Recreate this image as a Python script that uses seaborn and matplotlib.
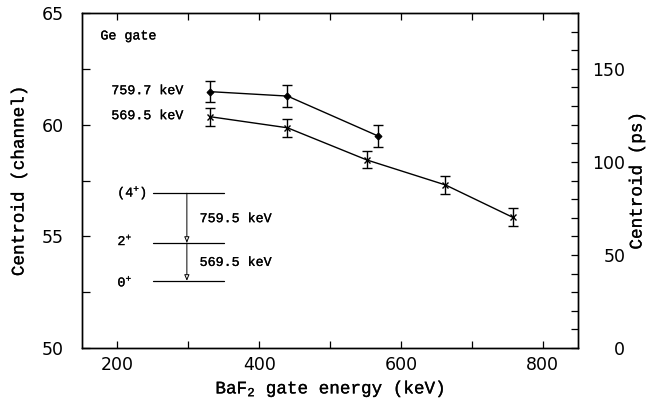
import matplotlib
matplotlib.use("Agg")
import matplotlib.pyplot as plt
import matplotlib.patheffects as pe
import seaborn as sns
import pandas as pd
from matplotlib.ticker import MultipleLocator, FixedLocator

# ---- data ----
gate_759 = [330, 440, 568]
cent_759 = [61.48, 61.28, 59.49]
err_759 = [0.48, 0.49, 0.49]

gate_569 = [330, 440, 552, 663, 758]
cent_569 = [60.36, 59.86, 58.42, 57.30, 55.85]
err_569 = [0.40, 0.40, 0.38, 0.39, 0.40]

series_labels = ["759.7 keV", "569.5 keV"]
x_ticks = [200, 300, 400, 500, 600, 700, 800]
x_ticklabels = ["200", "", "400", "", "600", "", "800"]
y_ticks = [50, 55, 60, 65]
ps_ticklabels = [0, 50, 100, 150]
ps_per_channel = 12.0  # 180 ps across 15 channels

levels_y = [56.93, 54.71, 53.01]
level_names = ["(4$^{+}$)", "2$^{+}$", "0$^{+}$"]
transitions = ["759.5 keV", "569.5 keV"]

df759 = pd.DataFrame({"gate": gate_759, "centroid": cent_759, "err": err_759})
df569 = pd.DataFrame({"gate": gate_569, "centroid": cent_569, "err": err_569})

sns.set_style("ticks")
plt.rcParams["font.family"] = ["Liberation Mono", "DejaVu Sans"]
for k in ["text.color", "axes.labelcolor", "xtick.color", "ytick.color", "axes.edgecolor"]:
    plt.rcParams[k] = "black"
plt.rcParams["mathtext.fontset"] = "custom"
plt.rcParams["mathtext.rm"] = "Liberation Mono"
plt.rcParams["mathtext.it"] = "Liberation Mono"

bold_fx = [pe.withStroke(linewidth=0.18, foreground="black")]

fig = plt.figure(figsize=(6.52, 4.0), dpi=100)
ax = fig.add_axes([82/652, 1-348/400, (578-82)/652, (348-13)/400])

mono = "Liberation Mono"
sans = "DejaVu Sans"

sns.lineplot(data=df759, x="gate", y="centroid", marker="D", color="black", linewidth=1.0,
             markersize=3.5, markeredgewidth=0.8, markeredgecolor="black", legend=False, ax=ax,
             sort=False, estimator=None)
sns.lineplot(data=df569, x="gate", y="centroid", marker="x", color="black", linewidth=1.0,
             markersize=4, markeredgewidth=1.0, markeredgecolor="black", legend=False, ax=ax,
             sort=False, estimator=None)
for sub in (df759, df569):
    ax.errorbar(sub["gate"], sub["centroid"], yerr=sub["err"], fmt="none", ecolor="black",
                elinewidth=1.0, capsize=3.5, capthick=1.0)

ax.set_xlim(150, 850)
ax.set_ylim(50, 65)

# ticks
ax.xaxis.set_major_locator(FixedLocator(x_ticks))
ax.set_xticklabels(x_ticklabels, fontfamily=sans, fontsize=12.5)
ax.yaxis.set_major_locator(FixedLocator(y_ticks))
ax.yaxis.set_minor_locator(FixedLocator([52.5, 57.5, 62.5]))
ax.set_yticklabels([str(v) for v in y_ticks], fontfamily=sans, fontsize=12.5)
ax.tick_params(axis="x", which="both", direction="in", top=True, length=5, width=0.9, pad=6)
ax.tick_params(axis="y", which="both", direction="in", right=False, length=6, width=0.9, pad=13)
for s in ax.spines.values():
    s.set_linewidth(1.0)
    s.set_color("black")

ax.set_xlabel("BaF$_2$ gate energy (keV)", fontfamily=mono, fontsize=12.7, labelpad=3,
              path_effects=bold_fx)
ax.set_ylabel("Centroid (channel)", fontfamily=mono, fontsize=12.7, path_effects=bold_fx)
ax.yaxis.set_label_coords((19 - 82) / 496, 0.5)
ax.yaxis.label.set_va("center")

# right axis in ps
ax2 = ax.twinx()
ax2.set_ylim(0, 15 * ps_per_channel)
ax2.yaxis.set_major_locator(FixedLocator(ps_ticklabels))
ax2.yaxis.set_minor_locator(MultipleLocator(10))
ax2.set_yticklabels([str(v) for v in ps_ticklabels], fontfamily=sans, fontsize=12.5)
ax2.tick_params(axis="y", which="both", direction="in", length=5, width=0.9, pad=34)
for lbl in ax2.get_yticklabels():
    lbl.set_horizontalalignment("right")
ax2.set_ylabel("Centroid (ps)", fontfamily=mono, fontsize=12.7, path_effects=bold_fx)
ax2.yaxis.set_label_coords((637 - 82) / 496, 0.5)
ax2.yaxis.label.set_va("center")
for s in ax2.spines.values():
    s.set_linewidth(1.0)

# annotations
fs = 9.6
kw = dict(fontfamily=mono, fontsize=fs, path_effects=bold_fx)
ax.text(176, 63.95, "Ge gate", va="center", **kw)
ax.text(293, cent_759[0] + 0.02, series_labels[0], ha="right", va="center", **kw)
ax.text(293, cent_569[0] + 0.02, series_labels[1], ha="right", va="center", **kw)

# level scheme
for yv in levels_y:
    ax.plot([250, 350], [yv, yv], color="black", linewidth=0.9)
ax.text(242, levels_y[0], level_names[0], ha="right", va="center", **kw)
ax.text(200, levels_y[1] + 0.1, level_names[1], ha="left", va="center", **kw)
ax.text(200, levels_y[2] - 0.05, level_names[2], ha="left", va="center", **kw)
for i in range(2):
    ax.annotate("", xy=(298, levels_y[i + 1]), xytext=(298, levels_y[i]),
                arrowprops=dict(arrowstyle="-|>,head_length=0.35,head_width=0.15", color="black",
                                lw=0.7, fc="white", shrinkA=0, shrinkB=0))
ax.text(316, (levels_y[0] + levels_y[1]) / 2 - 0.05, transitions[0], va="center", **kw)
ax.text(316, (levels_y[1] + levels_y[2]) / 2 - 0.05, transitions[1], va="center", **kw)

fig.savefig("out.png", dpi=100)
